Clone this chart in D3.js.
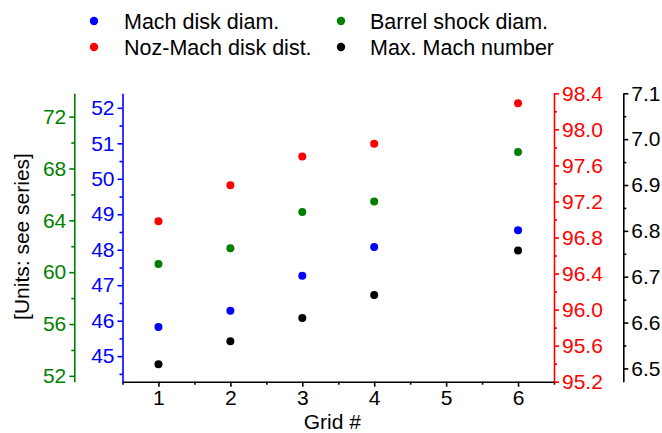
<!DOCTYPE html>
<html>
<head>
<meta charset="utf-8">
<script src="https://cdn.jsdelivr.net/npm/d3@7"></script>
<style>
  html, body { margin: 0; padding: 0; background: #fff; }
  svg { display: block; }
  text { font-family: "Liberation Sans", Arial, sans-serif; }
</style>
</head>
<body>
<svg id="chart" width="662" height="433"></svg>
<script>
// Grid-convergence study: four quantities per grid, each on its own axis
const grids = [1, 2, 3, 4, 6];
const machDiskDiam = [45.82, 46.28, 47.27, 48.08, 48.55];
const barrelShockDiam = [60.64, 61.84, 64.64, 65.45, 69.27];
const nozMachDiskDist = [96.98, 97.38, 97.70, 97.84, 98.29];
const maxMachNumber = [6.509, 6.559, 6.610, 6.660, 6.757];

const xTicks = [1, 2, 3, 4, 5, 6];
const blueTicks = [45, 46, 47, 48, 49, 50, 51, 52];
const greenTicks = [52, 56, 60, 64, 68, 72];
const redTicks = [95.2, 95.6, 96.0, 96.4, 96.8, 97.2, 97.6, 98.0, 98.4];
const blackTicks = [6.5, 6.6, 6.7, 6.8, 6.9, 7.0, 7.1];

const legendItems = [
  { label: "Mach disk diam.", color: "#0000ff", col: 0, row: 0 },
  { label: "Barrel shock diam.", color: "#008000", col: 1, row: 0 },
  { label: "Noz-Mach disk dist.", color: "#ff0000", col: 0, row: 1 },
  { label: "Max. Mach number", color: "#000000", col: 1, row: 1 }
];

const svg = d3.select("#chart");
const FS = 21;
const LEGEND_FS = 21.5;

const plot = { left: 122.5, right: 554, top: 93.3, bottom: 381.7 };
const greenAxisX = 74.3;
const blackAxisX = 623.3;

const x = d3.scaleLinear().domain([0.5, 6.5]).range([plot.left, plot.right]);
const yBlue = d3.scaleLinear().domain([44.28, 52.41]).range([plot.bottom, plot.top]);
const yGreen = d3.scaleLinear().domain([51.55, 73.8]).range([plot.bottom, plot.top]);
const yRed = d3.scaleLinear().domain([95.2, 98.4]).range([plot.bottom, plot.top]);
const yBlack = d3.scaleLinear().domain([6.471, 7.1]).range([plot.bottom, plot.top]);

function minors(ticks, step, domain) {
  const out = [];
  const lo = Math.min(...domain), hi = Math.max(...domain);
  for (let i = 0; i < ticks.length; i++) {
    const m = ticks[i] + step;
    if (m >= lo && m <= hi) out.push(+m.toFixed(4));
    const b = ticks[i] - step;
    if (i === 0 && b >= lo && b <= hi) out.push(+b.toFixed(4));
  }
  return out;
}

function drawAxis(gen, scale, ticks, minorStep, color, fmt, transform) {
  const g = svg.append("g").attr("transform", transform);
  g.call(gen(scale).tickValues(ticks).tickSizeInner(5).tickSizeOuter(0)
      .tickPadding(3).tickFormat(fmt));
  const gm = svg.append("g").attr("transform", transform);
  gm.call(gen(scale).tickValues(minors(ticks, minorStep, scale.domain()))
      .tickSizeInner(3).tickSizeOuter(0).tickFormat(""));
  gm.select(".domain").remove();
  [g, gm].forEach(s => {
    s.selectAll("path, line").attr("stroke", color).attr("stroke-width", 1.6);
    s.selectAll("text").attr("fill", color).style("font-size", FS + "px")
      .style("font-family", '"Liberation Sans", Arial, sans-serif');
  });
  return g;
}

const f1 = d3.format(".1f");
const f0 = d3.format("d");

// bottom axis
drawAxis(d3.axisBottom, x, xTicks, 0.5, "#000", f0,
  `translate(0,${plot.bottom})`);
// left blue axis (on plot edge)
drawAxis(d3.axisLeft, yBlue, blueTicks, 0.5, "#0000ff", f0,
  `translate(${plot.left},0)`);
// outer left green axis
drawAxis(d3.axisLeft, yGreen, greenTicks, 2, "#008000", f0,
  `translate(${greenAxisX},0)`);
// right red axis
drawAxis(d3.axisRight, yRed, redTicks, 0.2, "#ff0000", f1,
  `translate(${plot.right},0)`);
// outer right black axis
drawAxis(d3.axisRight, yBlack, blackTicks, 0.05, "#000", f1,
  `translate(${blackAxisX},0)`);

// axis titles
svg.append("text")
  .attr("x", (plot.left + plot.right) / 2 - 6)
  .attr("y", 429)
  .attr("text-anchor", "middle")
  .style("font-size", FS + "px")
  .text("Grid #");

svg.append("text")
  .attr("transform", `translate(29,${(plot.top + plot.bottom) / 2 - 1}) rotate(-90)`)
  .attr("text-anchor", "middle")
  .style("font-size", FS + "px")
  .text("[Units: see series]");

// series points
const series = [
  { values: machDiskDiam, y: yBlue, color: "#0000ff" },
  { values: barrelShockDiam, y: yGreen, color: "#008000" },
  { values: nozMachDiskDist, y: yRed, color: "#ff0000" },
  { values: maxMachNumber, y: yBlack, color: "#000000" }
];
series.forEach(s => {
  svg.append("g").selectAll("circle")
    .data(grids.map((g, i) => [g, s.values[i]]))
    .join("circle")
    .attr("cx", d => x(d[0]))
    .attr("cy", d => s.y(d[1]))
    .attr("r", 4)
    .attr("fill", s.color);
});

// legend
const legend = svg.append("g");
const colX = [94, 341], textX = [124, 370], rowY = [21, 47];
legendItems.forEach(it => {
  legend.append("circle")
    .attr("cx", colX[it.col]).attr("cy", rowY[it.row])
    .attr("r", 4.2).attr("fill", it.color);
  legend.append("text")
    .attr("x", textX[it.col]).attr("y", rowY[it.row] + 7.5)
    .style("font-size", LEGEND_FS + "px")
    .text(it.label);
});
</script>
</body>
</html>
